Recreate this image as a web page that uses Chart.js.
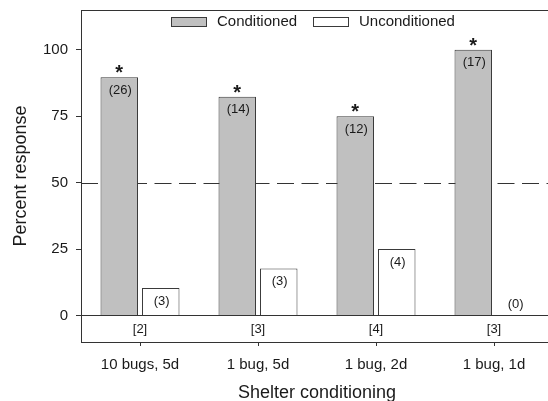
<!DOCTYPE html>
<html>
<head>
<meta charset="utf-8">
<title>Shelter conditioning</title>
<script src="https://cdn.jsdelivr.net/npm/chart.js@4.4.1/dist/chart.umd.min.js"></script>
<style>
    html, body { margin: 0; padding: 0; background: #ffffff; overflow: hidden; }
    /* plot runs a few pixels past the right edge of the page */
    #wrap { width: 548px; height: 401px; overflow: hidden; }
</style>
</head>
<body>
<div id="wrap"><canvas id="responseChart" width="553" height="401"></canvas></div>
<script>
// Shelter choice data
const categories = ['10 bugs, 5d', '1 bug, 5d', '1 bug, 2d', '1 bug, 1d'];
const conditionedCounts = [26, 14, 12, 17];
const unconditionedCounts = [3, 3, 4, 0];
const conditionedPct = [89.66, 82.35, 75, 100];
const unconditionedPct = [10.34, 17.65, 25, 0];
const noChoiceCounts = [2, 3, 4, 3];
const significant = [true, true, true, true];
const yTicks = [0, 25, 50, 75, 100];

const axisColor = '#333333';
const textColor = '#1a1a1a';
const fontFamily = '"Liberation Sans", Arial, sans-serif';

Chart.defaults.font.family = fontFamily;
Chart.defaults.color = textColor;

// drop the extra room Chart.js keeps for overflowing tick labels
function clearScalePadding(scale) {
    scale.paddingTop = 0;
    scale.paddingBottom = 0;
    scale.paddingLeft = 0;
    scale.paddingRight = 0;
}

// Frame line on top, zero line, 50% reference line and the text annotations
const annotationPlugin = {
    id: 'annotations',
    beforeDatasetsDraw(chart) {
        const { ctx, chartArea } = chart;
        const y = chart.scales.y.getPixelForValue(50);
        ctx.save();
        ctx.strokeStyle = axisColor;
        ctx.lineWidth = 1;
        ctx.setLineDash([17, 7.5]);
        ctx.beginPath();
        ctx.moveTo(chartArea.left, Math.round(y) + 0.5);
        ctx.lineTo(chartArea.right, Math.round(y) + 0.5);
        ctx.stroke();
        ctx.restore();
    },
    afterDatasetsDraw(chart) {
        const { ctx, chartArea } = chart;
        const yScale = chart.scales.y;
        const xScale = chart.scales.x;
        ctx.save();
        ctx.strokeStyle = axisColor;
        ctx.lineWidth = 1;

        // zero line
        const y0 = Math.round(yScale.getPixelForValue(0)) + 0.5;
        ctx.beginPath();
        ctx.moveTo(chartArea.left, y0);
        ctx.lineTo(chartArea.right, y0);
        ctx.stroke();

        // top frame
        ctx.beginPath();
        ctx.moveTo(chartArea.left, chartArea.top + 0.5);
        ctx.lineTo(chartArea.right, chartArea.top + 0.5);
        ctx.stroke();

        // counts in brackets inside / above each bar
        const counts = [conditionedCounts, unconditionedCounts];
        ctx.fillStyle = textColor;
        ctx.textAlign = 'center';
        ctx.textBaseline = 'middle';
        ctx.font = '13px ' + fontFamily;
        chart.data.datasets.forEach((ds, di) => {
            const meta = chart.getDatasetMeta(di);
            meta.data.forEach((bar, i) => {
                const value = ds.data[i];
                const ty = value < 5 ? bar.y - 11 : bar.y + 13;
                ctx.fillText('(' + counts[di][i] + ')', bar.x + 1, ty);
            });
        });

        // significance stars on conditioned bars
        ctx.font = 'bold 20px ' + fontFamily;
        ctx.textBaseline = 'alphabetic';
        chart.getDatasetMeta(0).data.forEach((bar, i) => {
            if (significant[i]) {
                ctx.fillText('*', bar.x, bar.y + 2);
            }
        });

        // no-choice counts in the strip under zero
        ctx.font = '13px ' + fontFamily;
        ctx.textBaseline = 'middle';
        const stripY = yScale.getPixelForValue(-5) + 1;
        categories.forEach((c, i) => {
            ctx.fillText('[' + noChoiceCounts[i] + ']', xScale.getPixelForValue(i), stripY);
        });

        // legend inside the plot
        const items = [
            { label: chart.data.datasets[0].label, fill: chart.data.datasets[0].backgroundColor, x: 171 },
            { label: chart.data.datasets[1].label, fill: chart.data.datasets[1].backgroundColor, x: 313 }
        ];
        ctx.font = '15px ' + fontFamily;
        ctx.textAlign = 'left';
        items.forEach(item => {
            ctx.fillStyle = item.fill;
            ctx.fillRect(item.x, 17.5, 35, 9);
            ctx.strokeStyle = '#3a3a3a';
            ctx.strokeRect(item.x + 0.5, 17.5, 35, 9);
            ctx.fillStyle = textColor;
            ctx.fillText(item.label, item.x + 46, 22);
        });
        ctx.restore();
    }
};

const chart = new Chart(document.getElementById('responseChart').getContext('2d'), {
    type: 'bar',
    data: {
        labels: categories,
        datasets: [
            {
                label: 'Conditioned',
                data: conditionedPct,
                backgroundColor: '#c0c0c0',
                borderColor: '#3a3a3a',
                borderWidth: 1
            },
            {
                label: 'Unconditioned',
                data: unconditionedPct,
                backgroundColor: '#ffffff',
                borderColor: '#3a3a3a',
                borderWidth: 1
            }
        ]
    },
    options: {
        responsive: false,
        animation: false,
        devicePixelRatio: 1,
        categoryPercentage: 0.703,
        barPercentage: 0.904,
        layout: {
            padding: { left: 0, top: 10, right: 0, bottom: 0 }
        },
        plugins: {
            legend: { display: false },
            tooltip: { enabled: false }
        },
        scales: {
            x: {
                offset: true,
                afterFit(scale) {
                    scale.height = 59;
                    clearScalePadding(scale);
                },
                grid: {
                    display: true,
                    offset: false,
                    drawOnChartArea: false,
                    drawTicks: true,
                    tickLength: 4,
                    color: axisColor
                },
                border: { display: true, color: axisColor, width: 1 },
                ticks: {
                    padding: 10,
                    color: textColor,
                    font: { size: 15 }
                },
                title: {
                    display: true,
                    text: 'Shelter conditioning',
                    color: textColor,
                    font: { size: 18 },
                    padding: { top: 0, bottom: -3 }
                }
            },
            y: {
                min: -10,
                max: 115,
                afterFit(scale) {
                    scale.width = 81;
                    clearScalePadding(scale);
                },
                afterBuildTicks(scale) {
                    scale.ticks = yTicks.map(v => ({ value: v }));
                },
                grid: {
                    display: true,
                    drawOnChartArea: false,
                    drawTicks: true,
                    tickLength: 5,
                    color: axisColor
                },
                border: { display: true, color: axisColor, width: 1 },
                ticks: {
                    padding: 8,
                    color: textColor,
                    font: { size: 15 }
                },
                title: {
                    display: true,
                    text: 'Percent response',
                    color: textColor,
                    font: { size: 18 },
                    padding: { top: 10, bottom: 0 }
                }
            }
        }
    },
    plugins: [annotationPlugin]
});
</script>
</body>
</html>
